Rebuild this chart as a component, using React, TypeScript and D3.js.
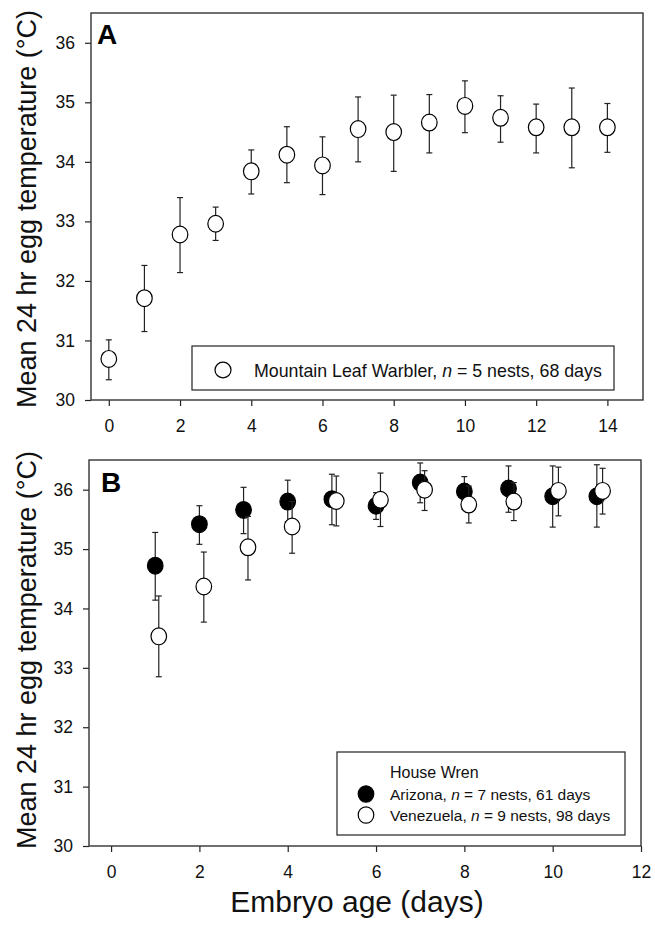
import React, { useEffect, useRef } from 'react';
import * as d3 from 'd3';

// Panel A - Mountain Leaf Warbler
const warblerDays = [0, 1, 2, 3, 4, 5, 6, 7, 8, 9, 10, 11, 12, 13, 14];
const warblerMean = [30.69, 31.71, 32.78, 32.96, 33.84, 34.12, 33.94, 34.55, 34.5, 34.66, 34.94, 34.74, 34.58, 34.58, 34.58];
const warblerLow = [30.34, 31.15, 32.14, 32.68, 33.46, 33.65, 33.45, 34.0, 33.84, 34.15, 34.49, 34.33, 34.15, 33.9, 34.16];
const warblerHigh = [31.01, 32.26, 33.4, 33.24, 34.2, 34.59, 34.42, 35.09, 35.12, 35.13, 35.36, 35.11, 34.97, 35.24, 34.98];

// Panel B - House Wren
const arizonaDays = [1, 2, 3, 4, 5, 6, 7, 8, 9, 10, 11];
const arizonaMean = [34.72, 35.42, 35.66, 35.8, 35.84, 35.73, 36.12, 35.97, 36.02, 35.89, 35.89];
const arizonaLow = [34.14, 35.08, 35.26, 35.46, 35.41, 35.5, 35.78, 35.67, 35.62, 35.37, 35.37];
const arizonaHigh = [35.28, 35.73, 36.04, 36.16, 36.26, 35.95, 36.45, 36.22, 36.4, 36.4, 36.42];

const venezuelaDays = [1.08, 2.1, 3.1, 4.1, 5.1, 6.1, 7.1, 8.1, 9.12, 10.13, 11.13];
const venezuelaMean = [33.53, 34.37, 35.03, 35.38, 35.81, 35.83, 36.0, 35.75, 35.8, 35.98, 35.98];
const venezuelaLow = [32.85, 33.77, 34.48, 34.93, 35.39, 35.38, 35.65, 35.44, 35.48, 35.56, 35.59];
const venezuelaHigh = [34.21, 34.95, 35.55, 35.8, 36.23, 36.28, 36.32, 36.06, 36.12, 36.38, 36.36];

const yTicks = [30, 31, 32, 33, 34, 35, 36];
const xTicksA = [0, 2, 4, 6, 8, 10, 12, 14];
const xTicksB = [0, 2, 4, 6, 8, 10, 12];

const FONT = 'Liberation Sans, Arial, Helvetica, sans-serif';
const INK = '#222';

type Series = { days: number[]; mean: number[]; low: number[]; high: number[]; fill: string };

const App = () => {
    const ref = useRef<SVGSVGElement>(null);

    useEffect(() => {
        const svg = d3.select(ref.current);
        svg.selectAll('*').remove();

        const drawPanel = (
            box: { left: number; right: number; top: number; bottom: number },
            xDomain: [number, number],
            xTicks: number[],
            series: Series[],
            letter: string,
            letterPos: [number, number],
            labelCenter: number
        ) => {
            const x = d3.scaleLinear().domain(xDomain).range([box.left, box.right]);
            const y = d3.scaleLinear().domain([30, 36.5]).range([box.bottom, box.top]);

            const g = svg.append('g');

            const yAxis = g.append('g')
                .attr('transform', `translate(${box.left},0)`)
                .call(d3.axisLeft(y).tickValues(yTicks).tickSize(6).tickSizeOuter(0).tickPadding(10).tickFormat(d3.format('d')));
            const xAxis = g.append('g')
                .attr('transform', `translate(0,${box.bottom})`)
                .call(d3.axisBottom(x).tickValues(xTicks).tickSize(6).tickSizeOuter(0).tickPadding(14).tickFormat(d3.format('d')));

            [yAxis, xAxis].forEach(a => {
                a.select('.domain').remove();
                a.selectAll('line').attr('stroke', INK).attr('stroke-width', 1.2);
                a.selectAll('text').attr('font-family', FONT).attr('font-size', 17.5).attr('fill', '#111');
            });

            g.append('rect')
                .attr('x', box.left)
                .attr('y', box.top)
                .attr('width', box.right - box.left)
                .attr('height', box.bottom - box.top)
                .attr('fill', 'none')
                .attr('stroke', '#333')
                .attr('stroke-width', 1.4);

            series.forEach(s => {
                const pts = s.days.map((d, i) => ({ d, m: s.mean[i], lo: s.low[i], hi: s.high[i] }));
                const grp = g.append('g');
                const bars = grp.selectAll('g.err').data(pts).enter().append('g').attr('class', 'err');
                bars.append('line')
                    .attr('x1', p => x(p.d)).attr('x2', p => x(p.d))
                    .attr('y1', p => y(p.lo)).attr('y2', p => y(p.hi))
                    .attr('stroke', INK).attr('stroke-width', 1.2);
                bars.append('line')
                    .attr('x1', p => x(p.d) - 3).attr('x2', p => x(p.d) + 3)
                    .attr('y1', p => y(p.lo)).attr('y2', p => y(p.lo))
                    .attr('stroke', INK).attr('stroke-width', 1.2);
                bars.append('line')
                    .attr('x1', p => x(p.d) - 3).attr('x2', p => x(p.d) + 3)
                    .attr('y1', p => y(p.hi)).attr('y2', p => y(p.hi))
                    .attr('stroke', INK).attr('stroke-width', 1.2);
                grp.selectAll('ellipse').data(pts).enter().append('ellipse')
                    .attr('cx', p => x(p.d))
                    .attr('cy', p => y(p.m))
                    .attr('rx', 7.8)
                    .attr('ry', 8.4)
                    .attr('fill', s.fill)
                    .attr('stroke', '#000')
                    .attr('stroke-width', 1.2);
            });

            g.append('text')
                .attr('x', letterPos[0]).attr('y', letterPos[1])
                .attr('font-family', FONT).attr('font-weight', 'bold').attr('font-size', 28)
                .text(letter);

            g.append('text')
                .attr('transform', `translate(36,${labelCenter}) rotate(-90)`)
                .attr('text-anchor', 'middle')
                .attr('font-family', FONT).attr('font-size', 27).attr('fill', '#111')
                .text('Mean 24 hr egg temperature (°C)');

            return g;
        };

        // Panel A
        const gA = drawPanel(
            { left: 91, right: 643, top: 13, bottom: 400 },
            [-0.5, 15], xTicksA,
            [{ days: warblerDays, mean: warblerMean, low: warblerLow, high: warblerHigh, fill: '#fff' }],
            'A', [97, 44], 209
        );
        const legA = gA.append('g');
        legA.append('rect').attr('x', 192).attr('y', 346).attr('width', 422).attr('height', 44)
            .attr('fill', '#fff').attr('stroke', '#333').attr('stroke-width', 1.3);
        legA.append('ellipse').attr('cx', 223).attr('cy', 370).attr('rx', 8).attr('ry', 7.8)
            .attr('fill', '#fff').attr('stroke', '#000').attr('stroke-width', 1.2);
        const tA = legA.append('text').attr('x', 254).attr('y', 376.5)
            .attr('font-family', FONT).attr('font-size', 17.8).attr('fill', '#111');
        tA.append('tspan').text('Mountain Leaf Warbler, ');
        tA.append('tspan').attr('font-style', 'italic').text('n');
        tA.append('tspan').text(' = 5 nests, 68 days');

        // Panel B
        const gB = drawPanel(
            { left: 89, right: 641, top: 460, bottom: 846 },
            [-0.5, 12], xTicksB,
            [
                { days: arizonaDays, mean: arizonaMean, low: arizonaLow, high: arizonaHigh, fill: '#000' },
                { days: venezuelaDays, mean: venezuelaMean, low: venezuelaLow, high: venezuelaHigh, fill: '#fff' }
            ],
            'B', [101, 492], 650
        );
        const legB = gB.append('g');
        legB.append('rect').attr('x', 337).attr('y', 752).attr('width', 288).attr('height', 83)
            .attr('fill', '#fff').attr('stroke', '#333').attr('stroke-width', 1.3);
        legB.append('text').attr('x', 390).attr('y', 777.5)
            .attr('font-family', FONT).attr('font-size', 16).attr('fill', '#111').text('House Wren');
        const rows = [
            { fill: '#000', site: 'Arizona, ', rest: ' = 7 nests, 61 days', cy: 794 },
            { fill: '#fff', site: 'Venezuela, ', rest: ' = 9 nests, 98 days', cy: 815 }
        ];
        rows.forEach(r => {
            legB.append('ellipse').attr('cx', 366).attr('cy', r.cy).attr('rx', 7.8).attr('ry', 8.2)
                .attr('fill', r.fill).attr('stroke', '#000').attr('stroke-width', 1.2);
            const t = legB.append('text').attr('x', 390).attr('y', r.cy + 5.5)
                .attr('font-family', FONT).attr('font-size', 15.5).attr('fill', '#111');
            t.append('tspan').text(r.site);
            t.append('tspan').attr('font-style', 'italic').text('n');
            t.append('tspan').text(r.rest);
        });

        svg.append('text')
            .attr('x', 357).attr('y', 912)
            .attr('text-anchor', 'middle')
            .attr('font-family', FONT).attr('font-size', 30).attr('fill', '#111')
            .text('Embryo age (days)');
    }, []);

    return (
        <svg
            ref={ref}
            width={655}
            height={930}
            style={{ position: 'absolute', left: 0, top: 0, background: '#fff' }}
        />
    );
};

export default App;
